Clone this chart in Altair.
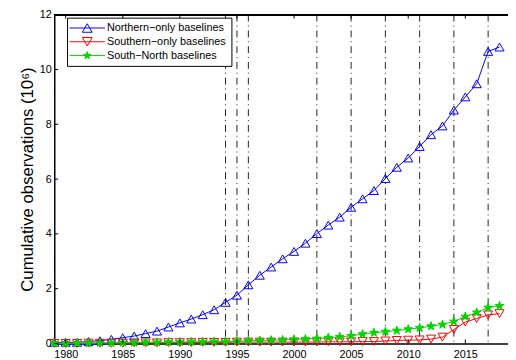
import altair as alt
import pandas as pd

# ---------------- data ----------------
years = list(range(1979, 2019))
northern = [0.04, 0.04, 0.04, 0.07, 0.10, 0.15, 0.21, 0.27, 0.36, 0.45,
            0.60, 0.75, 0.89, 1.05, 1.23, 1.50, 1.76, 2.14, 2.49, 2.79,
            3.09, 3.36, 3.66, 4.01, 4.32, 4.61, 4.97, 5.28, 5.58, 6.02,
            6.43, 6.77, 7.19, 7.62, 7.94, 8.52, 9.00, 9.48, 10.66, 10.82]
southern = [0.00, 0.00, 0.00, 0.01, 0.01, 0.01, 0.01, 0.02, 0.02, 0.02,
            0.03, 0.03, 0.03, 0.04, 0.04, 0.04, 0.05, 0.05, 0.05, 0.05,
            0.05, 0.05, 0.05, 0.05, 0.06, 0.06, 0.06, 0.07, 0.07, 0.09,
            0.11, 0.12, 0.13, 0.16, 0.23, 0.51, 0.78, 0.91, 1.04, 1.09]
south_north = [0.00, 0.00, 0.01, 0.01, 0.02, 0.02, 0.03, 0.03, 0.04, 0.04,
               0.05, 0.05, 0.06, 0.06, 0.07, 0.07, 0.08, 0.10, 0.11, 0.12,
               0.13, 0.15, 0.16, 0.18, 0.21, 0.24, 0.28, 0.34, 0.39, 0.43,
               0.47, 0.52, 0.57, 0.63, 0.69, 0.80, 0.98, 1.13, 1.31, 1.37]
series_names = ["Northern\u2212only baselines", "Southern\u2212only baselines", "South\u2212North baselines"]
series_colors = ["#0000ff", "#ff0000", "#00d400"]
event_years = [1994, 1995, 1996, 2002, 2005, 2008, 2011, 2014, 2017]
x_ticks = [1980, 1985, 1990, 1995, 2000, 2005, 2010, 2015]
y_ticks = [0, 2, 4, 6, 8, 10, 12]
y_title = "Cumulative observations (10\u2076)"

rows = []
for name, vals in zip(series_names, [northern, southern, south_north]):
    for yr, v in zip(years, vals):
        rows.append({"year": yr, "value": v, "series": name})
df = pd.DataFrame(rows)
ev_df = pd.DataFrame({"year": event_years})
xt_df = pd.DataFrame({"year": x_ticks})
yt_df = pd.DataFrame({"value": y_ticks})

# ---------------- styling ----------------
FONT = "Liberation Sans"
W, H = 461, 334

TRI_UP = "M0,-0.866L1,0.866L-1,0.866Z"
TRI_DN = "M0,0.866L1,-0.866L-1,-0.866Z"
STAR = ("M0,-1L0.2245,-0.309L0.951,-0.309L0.3633,0.118L0.588,0.809L0,0.382"
        "L-0.588,0.809L-0.3633,0.118L-0.951,-0.309L-0.2245,-0.309Z")
LEG_LINE = "M-3.6,0L3.6,0"
LEG_SHAPES = [LEG_LINE + "M0,-0.866L1,0.866L-1,0.866Z",
              LEG_LINE + "M0,0.866L1,-0.866L-1,-0.866Z",
              LEG_LINE + ("M0,-0.8L0.18,-0.247L0.761,-0.247L0.291,0.094L0.47,0.647L0,0.306"
                          "L-0.47,0.647L-0.291,0.094L-0.761,-0.247L-0.18,-0.247Z")]

x_scale = alt.Scale(domain=[1979, 2018.74], nice=False, zero=False)
y_scale = alt.Scale(domain=[0, 12], nice=False, zero=False)
x_axis = alt.Axis(values=x_ticks, format="d", title=None, ticks=False, tickSize=0,
                  grid=False, labelPadding=5, domainColor="black", domainWidth=1.5,
                  labelFont=FONT, labelFontSize=11, labelColor="black")
y_axis = alt.Axis(values=y_ticks, title=y_title, ticks=False, tickSize=0, grid=False,
                  labelPadding=3, domainColor="black", domainWidth=1.5,
                  labelFont=FONT, labelFontSize=11, labelColor="black",
                  titleFont=FONT, titleFontSize=17, titleFontWeight="normal",
                  titleColor="black", titlePadding=3)

X = alt.X("year:Q", scale=x_scale, axis=x_axis)
Y = alt.Y("value:Q", scale=y_scale, axis=y_axis)

layers = []
# vertical dash-dot event lines
layers.append(alt.Chart(ev_df).mark_rule(color="#222222", strokeWidth=1,
                                         strokeDash=[7, 4, 1, 4]).encode(x=X))

shapes = [TRI_UP, TRI_DN, STAR]
filled = [False, False, True]
for name, col, shp, fl in zip(series_names, series_colors, shapes, filled):
    sub = df[df["series"] == name]
    layers.append(alt.Chart(sub).mark_line(color=col, strokeWidth=1).encode(x=X, y=Y))
    if fl:
        pt = alt.Chart(sub).mark_point(shape=shp, size=85, filled=True, fill=col,
                                       stroke=col, strokeWidth=1, opacity=1)
    else:
        pt = alt.Chart(sub).mark_point(shape=shp, size=85, filled=False, color=col,
                                       strokeWidth=1, opacity=1)
    layers.append(pt.encode(x=X, y=Y))

# inward tick marks (MATLAB style) and top border
layers.append(alt.Chart(xt_df).mark_rule(color="black", strokeWidth=1).encode(
    x=X, y=alt.value(0), y2=alt.value(4)))
layers.append(alt.Chart(xt_df).mark_rule(color="black", strokeWidth=1).encode(
    x=X, y=alt.value(H - 4), y2=alt.value(H)))
layers.append(alt.Chart(yt_df).mark_rule(color="black", strokeWidth=1).encode(
    y=Y, x=alt.value(0), x2=alt.value(4)))
layers.append(alt.Chart(xt_df).mark_rule(color="black", strokeWidth=1.5).encode(
    x=alt.value(0), x2=alt.value(W), y=alt.value(0)))

# legend carrier layer (drawn outside the view and clipped)
legend = alt.Legend(orient="none", legendX=13, legendY=3, title=None, padding=5,
                    strokeColor="black", fillColor="white", symbolSize=100,
                    symbolStrokeWidth=1, symbolOffset=10, labelOffset=14.5,
                    rowPadding=1, labelFont=FONT, labelFontSize=11, labelColor="black",
                    labelLimit=400)
leg_layer = alt.Chart(df).mark_point(clip=True, strokeWidth=1, opacity=1).encode(
    x=alt.value(-60), y=alt.value(-60),
    shape=alt.Shape("series:N", scale=alt.Scale(domain=series_names, range=LEG_SHAPES),
                    legend=legend),
    stroke=alt.Stroke("series:N", scale=alt.Scale(domain=series_names, range=series_colors),
                      legend=legend),
    fill=alt.Fill("series:N", scale=alt.Scale(domain=series_names,
                                              range=["transparent", "transparent", series_colors[2]]),
                  legend=legend),
)
layers.append(leg_layer)

chart = alt.layer(*layers).properties(
    width=W, height=H,
    autosize=alt.AutoSizeParams(type="none"),
    padding={"left": 47, "top": 4, "right": 0, "bottom": 14},
    background="white",
).configure_view(stroke=None)

chart.save("out.html", embed_options={"renderer": "svg", "actions": False})
